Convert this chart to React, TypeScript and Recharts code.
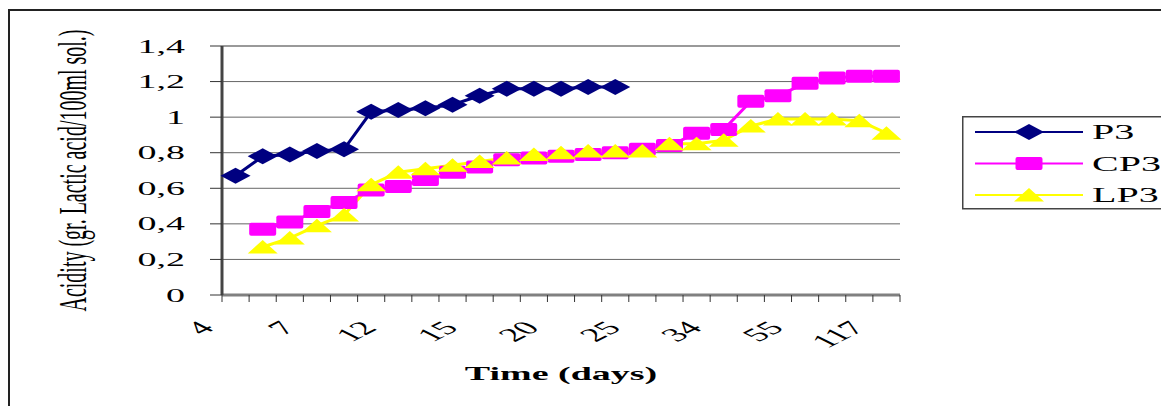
import React from 'react';
import {
  LineChart,
  Line,
  XAxis,
  YAxis,
  CartesianGrid,
  ReferenceLine,
  Legend,
} from 'recharts';

// sampling days (only every third one is labelled on the axis; the in-between days are guesses)
const days = [4, 5, 6, 7, 8, 10, 12, 13, 14, 15, 17, 18, 20, 21, 22, 25, 27, 30, 34, 38, 45, 55, 70, 90, 117];
const tickLabels = [4, 7, 12, 15, 20, 25, 34, 55, 117];
const yTicks = [0, 0.2, 0.4, 0.6, 0.8, 1, 1.2, 1.4];
const seriesNames = ['P3', 'CP3', 'LP3'];

const p3 = [0.67, 0.78, 0.79, 0.81, 0.82, 1.03, 1.04, 1.05, 1.07, 1.12, 1.16, 1.16, 1.16, 1.17, 1.17,
  null, null, null, null, null, null, null, null, null, null];
const cp3 = [null, 0.37, 0.41, 0.47, 0.52, 0.59, 0.61, 0.65, 0.69, 0.72, 0.76, 0.77, 0.78, 0.79, 0.8,
  0.82, 0.84, 0.91, 0.93, 1.09, 1.12, 1.19, 1.22, 1.23, 1.23];
const lp3 = [null, 0.27, 0.32, 0.39, 0.45, 0.62, 0.69, 0.71, 0.73, 0.75, 0.77, 0.79, 0.8, 0.81, 0.81,
  0.81, 0.85, 0.85, 0.87, 0.95, 0.99, 0.99, 0.99, 0.98, 0.91];

const data = days.map((d, i) => ({ day: d, P3: p3[i], CP3: cp3[i], LP3: lp3[i] }));

const FONT = '"Liberation Serif", "Times New Roman", serif';
const W = 1159;
const H = 396;
const PLOT_W = 678;
const BAND = PLOT_W / days.length;

const COLORS: Record<string, string> = { P3: '#000080', CP3: '#ff00ff', LP3: '#ffff00' };

const Marker = ({ kind, cx, cy, color }: any) => {
  if (kind === 'P3') {
    return <polygon points={`${cx - 15},${cy} ${cx},${cy - 8} ${cx + 15},${cy} ${cx},${cy + 8}`} fill={color} />;
  }
  if (kind === 'CP3') {
    return <rect x={cx - 13.5} y={cy - 6.5} width={27} height={13} rx={2} fill={color} />;
  }
  return <polygon points={`${cx - 15},${cy + 6.5} ${cx},${cy - 7} ${cx + 15},${cy + 6.5}`} fill={color} />;
};

const makeDot = (kind: string) => (props: any) => {
  const { cx, cy, value, index } = props;
  if (value == null || cy == null || cx == null) return <g key={`${kind}-${index}`} />;
  return <Marker key={`${kind}-${index}`} kind={kind} cx={cx} cy={cy} color={COLORS[kind]} />;
};

const XTick = (props: any) => {
  const { x, y, payload, index } = props;
  const last = index === days.length - 1;
  return (
    <g>
      <line x1={x - BAND / 2} x2={x - BAND / 2} y1={y} y2={y + 7} stroke="#333" />
      {last && <line x1={x + BAND / 2} x2={x + BAND / 2} y1={y} y2={y + 7} stroke="#333" />}
      {tickLabels.includes(payload.value) && (
        <g transform={`translate(${x - 20},${y + 34}) scale(2,1) rotate(-45)`}>
          <text textAnchor="end" fontFamily={FONT} fontSize={19} fill="#000">
            {payload.value}
          </text>
        </g>
      )}
    </g>
  );
};

const YTick = (props: any) => {
  const { x, y, payload } = props;
  return (
    <g transform={`translate(${x},${y}) scale(2,1)`}>
      <text textAnchor="end" dominantBaseline="central" fontFamily={FONT} fontSize={19} fill="#000">
        {String(payload.value).replace('.', ',')}
      </text>
    </g>
  );
};

const renderLegend = (props: any) => {
  const items = [...(props.payload || [])].sort(
    (a: any, b: any) => seriesNames.indexOf(a.dataKey) - seriesNames.indexOf(b.dataKey)
  );
  return (
    <svg width={262} height={95} style={{ display: 'block' }}>
      <rect x={0.75} y={0.75} width={260} height={92} fill="#fff" stroke="#444" strokeWidth={1.5} />
      {items.map((entry: any, i: number) => {
        const key = entry.dataKey as string;
        const cy = 16 + i * 31.5;
        return (
          <g key={key}>
            <line x1={13} x2={121} y1={cy} y2={cy} stroke={COLORS[key]} strokeWidth={2} />
            <Marker kind={key} cx={67} cy={cy} color={COLORS[key]} />
            <g transform={`translate(130,${cy + 7}) scale(2,1)`}>
              <text fontFamily={FONT} fontSize={20} fill="#000">{entry.value}</text>
            </g>
          </g>
        );
      })}
    </svg>
  );
};

export default function App() {
  return (
    <div
      style={{
        position: 'relative',
        top: 1,
        width: 1161,
        height: 398,
        borderTop: '2px solid #222',
        borderLeft: '2px solid #222',
        boxSizing: 'border-box',
        overflow: 'hidden',
        background: '#fff',
      }}
    >
      <style>{'body{overflow:hidden}'}</style>
      <LineChart width={W} height={H} data={data} margin={{ top: 35, right: 269, bottom: 22, left: 0 }}>
        <CartesianGrid horizontal vertical={false} stroke="#666" />
        <XAxis
          dataKey="day"
          scale="band"
          interval={0}
          height={90}
          tickSize={0}
          tickMargin={0}
          tickLine={false}
          tick={<XTick />}
          axisLine={{ stroke: '#808080', strokeWidth: 3 }}
          label={{
            content: (p: any) => {
              const vb = p.viewBox || {};
              return (
                <g transform={`translate(${vb.x + vb.width / 2},369) scale(2,1)`}>
                  <text textAnchor="middle" fontFamily={FONT} fontSize={19} fontWeight="bold" fill="#000">
                    Time (days)
                  </text>
                </g>
              );
            },
          }}
        />
        <YAxis
          domain={[0, 1.4]}
          ticks={yTicks}
          width={212}
          tickSize={12}
          tickMargin={25}
          tickLine={{ stroke: '#333' }}
          axisLine={{ stroke: '#444', strokeWidth: 3 }}
          tick={<YTick />}
          label={{
            content: (p: any) => {
              const vb = p.viewBox || {};
              return (
                <g transform={`translate(${vb.x + 62.5},${vb.y + vb.height / 2}) scale(2,1) rotate(-90)`}>
                  <text textAnchor="middle" dominantBaseline="central" fontFamily={FONT} fontSize={20} fill="#000">
                    Acidity (gr. Lactic acid/100ml sol.)
                  </text>
                </g>
              );
            },
          }}
        />
        <YAxis
          yAxisId="frame"
          orientation="right"
          domain={[0, 1.4]}
          width={0}
          tick={false}
          tickLine={false}
          axisLine={{ stroke: '#808080', strokeWidth: 4 }}
        />
        <ReferenceLine y={1.4} stroke="#999" strokeWidth={2} />
        <Line dataKey="P3" name="P3" stroke={COLORS.P3} strokeWidth={3} dot={makeDot('P3')} activeDot={false} isAnimationActive={false} />
        <Line dataKey="CP3" name="CP3" stroke={COLORS.CP3} strokeWidth={3} dot={makeDot('CP3')} activeDot={false} isAnimationActive={false} />
        <Line dataKey="LP3" name="LP3" stroke={COLORS.LP3} strokeWidth={3} dot={makeDot('LP3')} activeDot={false} isAnimationActive={false} />
        <Legend
          layout="vertical"
          align="center"
          verticalAlign="middle"
          content={renderLegend}
          wrapperStyle={{ position: 'absolute', left: 952, top: 105, width: 262, height: 95 }}
        />
      </LineChart>
    </div>
  );
}
